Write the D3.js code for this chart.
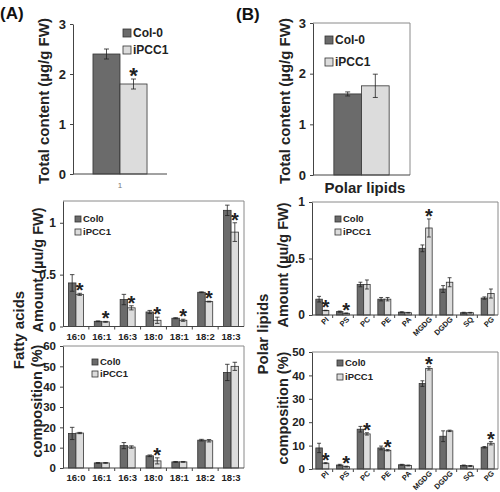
<!DOCTYPE html>
<html>
<head>
<meta charset="utf-8">
<script src="https://cdn.jsdelivr.net/npm/d3@7"></script>
<style>
body { margin:0; background:#fff; }
svg text { font-family: "Liberation Sans", Arial, sans-serif; }
</style>
</head>
<body>
<div id="chart"></div>
<script>
// ---- data ----
var groups = ["Col-0", "iPCC1"];
var groupsShort = ["Col0", "iPCC1"];

var faTotal = [2.4, 1.8];
var faTotalErr = [0.1, 0.1];
var faTotalStar = [0, 1];

var plTotal = [1.6, 1.76];
var plTotalErr = [0.04, 0.23];
var plTotalStar = [0, 0];

var faCats = ["16:0", "16:1", "16:3", "18:0", "18:1", "18:2", "18:3"];
var faAmtCol0 = [0.42, 0.05, 0.26, 0.14, 0.08, 0.33, 1.12];
var faAmtCol0Err = [0.08, 0.004, 0.05, 0.015, 0.005, 0.004, 0.05];
var faAmtIpcc = [0.31, 0.045, 0.18, 0.06, 0.06, 0.24, 0.91];
var faAmtIpccErr = [0.01, 0.004, 0.02, 0.03, 0.01, 0.004, 0.09];
var faAmtStar = [1, 1, 1, 1, 1, 1, 1];

var faPctCol0 = [17, 2.5, 11, 6, 3, 13.7, 47];
var faPctCol0Err = [3, 0.2, 1.5, 0.4, 0.2, 0.4, 4];
var faPctIpcc = [17.2, 2.5, 10.3, 3.5, 3, 13.4, 50];
var faPctIpccErr = [0.3, 0.2, 0.6, 1.5, 0.2, 0.6, 2];
var faPctStar = [0, 0, 0, 1, 0, 0, 0];

var plCats = ["PI", "PS", "PC", "PE", "PA", "MGDG", "DGDG", "SQ", "PG"];
var plAmtCol0 = [0.14, 0.03, 0.27, 0.14, 0.025, 0.59, 0.23, 0.02, 0.15];
var plAmtCol0Err = [0.025, 0.005, 0.02, 0.015, 0.004, 0.03, 0.03, 0.004, 0.01];
var plAmtIpcc = [0.04, 0.015, 0.27, 0.14, 0.02, 0.77, 0.29, 0.02, 0.19];
var plAmtIpccErr = [0.002, 0.003, 0.04, 0.015, 0.003, 0.08, 0.04, 0.003, 0.04];
var plAmtStar = [1, 1, 0, 0, 0, 1, 0, 0, 0];

var plPctCol0 = [9, 1.7, 17, 9, 1.8, 36.5, 14, 1.5, 9.3];
var plPctCol0Err = [2, 0.3, 1.2, 0.8, 0.2, 1.2, 2.3, 0.2, 0.3];
var plPctIpcc = [2.5, 1, 15, 8, 1.5, 43, 16.3, 1.3, 11];
var plPctIpccErr = [0.2, 0.2, 0.5, 0.3, 0.2, 0.7, 0.3, 0.2, 0.7];
var plPctStar = [1, 1, 1, 1, 0, 1, 0, 0, 1];

var colors = ["#6b6b6b", "#dcdcdc"];

var svg = d3.select("#chart").append("svg")
    .attr("width", 500)
    .attr("height", 492);

function panel(o) {
    var g = svg.append("g");
    var x = d3.scaleBand().domain(o.cats).range([o.x0, o.x1]).paddingInner(0).paddingOuter(0);
    var bw = x.bandwidth() * o.barFrac / 2;
    var y = d3.scaleLinear().domain(o.domain).range([o.y0, o.y1]);

    // box
    if (o.box) {
        g.append("path")
            .attr("d", "M" + o.x0 + "," + o.y1 + "H" + o.x1 + "V" + o.y0)
            .attr("fill", "none").attr("stroke", "#8a8a8a").attr("stroke-width", 1);
    }

    // bars
    o.series.forEach(function(s, si) {
        var rows = s.vals.map(function(v, i) { return {c: o.cats[i], v: v, e: s.errs[i], st: s.star ? s.star[i] : 0}; });
        var bx = function(d) { return x(d.c) + x.bandwidth() / 2 - bw + si * bw; };
        g.selectAll(".bar" + si).data(rows).enter().append("rect")
            .attr("x", bx)
            .attr("y", function(d) { return y(d.v); })
            .attr("width", bw)
            .attr("height", function(d) { return y(0) - y(d.v); })
            .attr("fill", colors[si])
            .attr("stroke", "#333").attr("stroke-width", 0.8);
        var cx = function(d) { return bx(d) + bw / 2; };
        var cap = Math.min(2.5, bw * 0.3);
        g.selectAll(".err" + si).data(rows).enter().append("path")
            .attr("d", function(d) {
                var t = y(d.v + d.e), b = y(d.v - d.e), c = cx(d);
                return "M" + c + "," + t + "V" + b + "M" + (c - cap) + "," + t + "H" + (c + cap) + "M" + (c - cap) + "," + b + "H" + (c + cap);
            })
            .attr("stroke", "#222").attr("stroke-width", 0.8).attr("fill", "none");
        g.selectAll(".star" + si).data(rows.filter(function(d) { return d.st; })).enter().append("text")
            .attr("x", cx)
            .attr("y", function(d) { return y(d.v + d.e) + o.starOff; })
            .attr("text-anchor", "middle")
            .attr("font-size", o.starSize)
            .attr("font-weight", "bold")
            .attr("fill", "#222")
            .text("*");
    });

    // axes
    var ya = g.append("g").attr("transform", "translate(" + o.x0 + ",0)")
        .call(d3.axisLeft(y).tickValues(o.ticks).tickFormat(o.fmt || d3.format("")).tickSize(3).tickSizeOuter(0));
    ya.select(".domain").attr("stroke", "#444");
    ya.selectAll(".tick line").attr("stroke", "#444");
    ya.selectAll("text").attr("font-size", o.tickSize).attr("font-weight", "bold").attr("fill", "#222")
        .attr("font-family", "Liberation Sans, Arial, sans-serif").attr("dx", "-1");

    var xa = g.append("g").attr("transform", "translate(0," + o.y0 + ")");
    xa.append("line").attr("x1", o.x0).attr("x2", o.x1).attr("y1", 0).attr("y2", 0).attr("stroke", "#444");
    if (o.catTicks) {
        xa.selectAll(".ct").data(o.cats.slice(1)).enter().append("line")
            .attr("x1", function(c) { return x(c); }).attr("x2", function(c) { return x(c); })
            .attr("y1", 0).attr("y2", 3).attr("stroke", "#444");
    }
    if (o.catLabels === "rot") {
        xa.selectAll(".cl").data(o.cats).enter().append("text")
            .attr("transform", function(c) { return "translate(" + (x(c) + x.bandwidth() / 2 + 4) + ",2) rotate(-45)"; })
            .attr("text-anchor", "end")
            .attr("dy", "0.55em")
            .attr("font-size", 7.5).attr("font-weight", "bold").attr("fill", "#222")
            .text(function(c) { return c; });
    } else if (o.catLabels === "flat") {
        xa.selectAll(".cl").data(o.cats).enter().append("text")
            .attr("x", function(c) { return x(c) + x.bandwidth() / 2; })
            .attr("y", 13)
            .attr("text-anchor", "middle")
            .attr("font-size", 9.5).attr("font-weight", "bold").attr("fill", "#222")
            .text(function(c) { return c; });
    } else if (o.catLabels === "plain") {
        xa.selectAll(".cl").data(o.cats).enter().append("text")
            .attr("x", function(c) { return x(c) + x.bandwidth() / 2; })
            .attr("y", 14)
            .attr("text-anchor", "middle")
            .attr("font-size", 8).attr("fill", "#777")
            .text(function(c) { return c; });
    }

    // legend
    o.legendNames.forEach(function(n, i) {
        var ly = o.legY[i];
        g.append("rect").attr("x", o.legX).attr("y", ly - o.legSq / 2).attr("width", o.legSq).attr("height", o.legSq)
            .attr("fill", colors[i]).attr("stroke", "#333").attr("stroke-width", 0.8);
        g.append("text").attr("x", o.legX + o.legSq + 2).attr("y", ly).attr("dy", "0.35em")
            .attr("font-size", o.legFont).attr("font-weight", "bold").attr("fill", "#222").text(n);
    });

    // y label
    o.ylabels.forEach(function(l) {
        g.append("text")
            .attr("transform", "translate(" + l.x + "," + l.y + ") rotate(-90)")
            .attr("text-anchor", "middle")
            .attr("dy", "0.35em")
            .attr("font-size", l.size).attr("font-weight", "bold").attr("fill", "#222")
            .text(l.t);
    });
    return g;
}

// (A) total fatty acids
panel({
    cats: ["1"], x0: 73, x1: 167, y0: 174, y1: 24, domain: [0, 3], ticks: [0, 1, 2, 3],
    barFrac: 0.575, box: false, catTicks: false, catLabels: "plain", tickSize: 13,
    series: [{vals: [faTotal[0]], errs: [faTotalErr[0]], star: [faTotalStar[0]]},
             {vals: [faTotal[1]], errs: [faTotalErr[1]], star: [faTotalStar[1]]}],
    starOff: 4, starSize: 22,
    legendNames: groups, legX: 123, legY: [33, 50], legSq: 8, legFont: 12,
    ylabels: [{t: "Total content (µg/g FW)", x: 44, y: 101, size: 15}]
});

// (B) total polar lipids
panel({
    cats: ["Polar lipids"], x0: 313, x1: 410, y0: 175, y1: 23, domain: [0, 3], ticks: [0, 1, 2, 3],
    barFrac: 0.57, box: true, catTicks: false, catLabels: null, tickSize: 13,
    series: [{vals: [plTotal[0]], errs: [plTotalErr[0]], star: [plTotalStar[0]]},
             {vals: [plTotal[1]], errs: [plTotalErr[1]], star: [plTotalStar[1]]}],
    starOff: 4, starSize: 22,
    legendNames: groups, legX: 325, legY: [40, 62], legSq: 8, legFont: 12,
    ylabels: [{t: "Total content (µg/g FW)", x: 285, y: 101, size: 15}]
});
svg.append("text").attr("x", 365).attr("y", 193).attr("text-anchor", "middle")
    .attr("font-size", 15).attr("font-weight", "bold").attr("fill", "#222").text("Polar lipids");

// fatty acid amounts
panel({
    cats: faCats, x0: 63, x1: 244, y0: 326.5, y1: 201, domain: [0, 1.21], ticks: [0, 0.5, 1],
    barFrac: 0.58, box: true, catTicks: true, catLabels: "flat", tickSize: 12,
    series: [{vals: faAmtCol0, errs: faAmtCol0Err}, {vals: faAmtIpcc, errs: faAmtIpccErr, star: faAmtStar}],
    starOff: 4, starSize: 20,
    legendNames: groupsShort, legX: 75, legY: [219, 232], legSq: 6, legFont: 9.5,
    ylabels: [{t: "Amount (µu/g FW)", x: 38, y: 270, size: 14.5}, {t: "Fatty acids", x: 19, y: 330, size: 15}]
});

// fatty acid composition
panel({
    cats: faCats, x0: 63, x1: 244, y0: 468, y1: 346, domain: [0, 60], ticks: [0, 10, 20, 30, 40, 50, 60],
    barFrac: 0.58, box: true, catTicks: true, catLabels: "flat", tickSize: 11.5,
    series: [{vals: faPctCol0, errs: faPctCol0Err}, {vals: faPctIpcc, errs: faPctIpccErr, star: faPctStar}],
    starOff: 4, starSize: 20,
    legendNames: groupsShort, legX: 92, legY: [362, 374], legSq: 6, legFont: 9.5,
    ylabels: [{t: "composition (%)", x: 37, y: 401, size: 14.5}]
});

// polar lipid amounts
panel({
    cats: plCats, x0: 312, x1: 498, y0: 315, y1: 202, domain: [0, 1], ticks: [0, 0.5, 1],
    barFrac: 0.63, box: true, catTicks: true, catLabels: "rot", tickSize: 12,
    series: [{vals: plAmtCol0, errs: plAmtCol0Err},
             {vals: plAmtIpcc, errs: plAmtIpccErr, star: plAmtStar}],
    starOff: 4, starSize: 20,
    legendNames: groupsShort, legX: 335, legY: [219, 232], legSq: 6, legFont: 9.5,
    ylabels: [{t: "Amount (µu/g FW)", x: 283, y: 265, size: 14.5}, {t: "Polar lipids", x: 263, y: 334, size: 15}]
});

// polar lipid composition
panel({
    cats: plCats, x0: 312, x1: 498, y0: 469, y1: 352, domain: [0, 50], ticks: [0, 10, 20, 30, 40, 50],
    barFrac: 0.63, box: true, catTicks: true, catLabels: "rot", tickSize: 11.5,
    series: [{vals: plPctCol0, errs: plPctCol0Err}, {vals: plPctIpcc, errs: plPctIpccErr, star: plPctStar}],
    starOff: 4, starSize: 20,
    legendNames: groupsShort, legX: 337, legY: [363, 377], legSq: 6, legFont: 9.5,
    ylabels: [{t: "composition (%)", x: 283, y: 408, size: 14.5}]
});

// panel letters
svg.append("text").attr("x", 0).attr("y", 19).attr("font-size", 17).attr("font-weight", "bold").attr("fill", "#111").text("(A)");
svg.append("text").attr("x", 236).attr("y", 20).attr("font-size", 17).attr("font-weight", "bold").attr("fill", "#111").text("(B)");
</script>
</body>
</html>
